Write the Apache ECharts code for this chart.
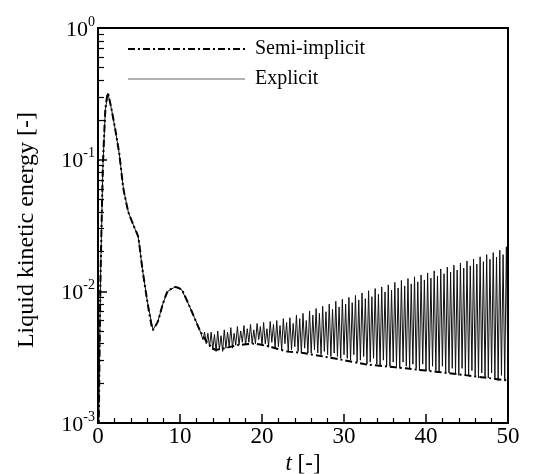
<!DOCTYPE html>
<html>
<head>
<meta charset="utf-8">
<script src="https://cdn.jsdelivr.net/npm/echarts@6/dist/echarts.min.js"></script>
<style>
  html, body { margin: 0; padding: 0; background: #fff; }
  #chart { width: 550px; height: 474px; }
</style>
</head>
<body>
<div id="chart"></div>
<script>
// Liquid kinetic energy history, semi-implicit vs explicit time stepping

const seriesNames = ['Semi-implicit', 'Explicit'];

// Semi-implicit scheme: time [-] and kinetic energy [-]
const semiT = [0, 0.3, 0.6, 0.9, 1.2, 1.6, 2.1, 2.6, 3.1, 3.7, 4.3, 4.9, 5.4, 6.0, 6.7,
  7.3, 7.9, 8.5, 9.4, 10.2, 11.2, 12.4, 13.3, 14.3, 15.5, 17, 19, 21, 23, 25,
  27.5, 30, 32.5, 35, 37.5, 40, 42.5, 45, 47.5, 50];
const semiE = [0.0003, 0.012, 0.09, 0.24, 0.32, 0.25, 0.17, 0.11, 0.06, 0.040, 0.032, 0.026, 0.015, 0.0085, 0.0051,
  0.0059, 0.0080, 0.0100, 0.0108, 0.0103, 0.0076, 0.0051, 0.0041, 0.0036, 0.0037, 0.0039, 0.0040, 0.0038, 0.0035, 0.0034,
  0.0032, 0.0030, 0.0028, 0.0027, 0.0026, 0.0025, 0.0024, 0.0023, 0.0022, 0.0021];

// Explicit scheme: identical to the semi-implicit run up to t = 12.4,
// then an oscillating record sampled every 0.2 from t = 12.6
const explicitSplitT = 12.5;
const explicitStart = 12.6;
const explicitStep = 0.2;
const explicitE = [
  0.0050, 0.0043, 0.0049, 0.0040, 0.0048, 0.0038, 0.0049, 0.0036, 0.0047, 0.0035,
  0.0050, 0.0036, 0.0046, 0.0035, 0.0051, 0.0037, 0.0049, 0.0038, 0.0053, 0.0037,
  0.0048, 0.0039, 0.0054, 0.0039, 0.0050, 0.0041, 0.0055, 0.0039, 0.0052, 0.0041,
  0.0056, 0.0040, 0.0051, 0.0040, 0.0057, 0.0043, 0.0054, 0.0039, 0.0058, 0.0040,
  0.0052, 0.0038, 0.0059, 0.0041, 0.0056, 0.0037, 0.0060, 0.0038, 0.0055, 0.0036,
  0.0062, 0.0040, 0.0058, 0.0035, 0.0063, 0.0036, 0.0057, 0.0038, 0.0066, 0.0035,
  0.0062, 0.0034, 0.0068, 0.0037, 0.0060, 0.0034, 0.0071, 0.0034, 0.0066, 0.0036,
  0.0074, 0.0034, 0.0068, 0.0033, 0.0077, 0.0035, 0.0070, 0.0033, 0.0080, 0.0032,
  0.0073, 0.0034, 0.0084, 0.0032, 0.0076, 0.0031, 0.0087, 0.0033, 0.0080, 0.0031,
  0.0090, 0.0030, 0.0082, 0.0033, 0.0093, 0.0029, 0.0086, 0.0030, 0.0097, 0.0032,
  0.0088, 0.0028, 0.0101, 0.0029, 0.0091, 0.0031, 0.0105, 0.0028, 0.0095, 0.0027,
  0.0108, 0.0030, 0.0099, 0.0027, 0.0112, 0.0027, 0.0102, 0.0029, 0.0117, 0.0027,
  0.0106, 0.0026, 0.0121, 0.0029, 0.0110, 0.0027, 0.0125, 0.0026, 0.0114, 0.0028,
  0.0129, 0.0026, 0.0118, 0.0025, 0.0133, 0.0028, 0.0122, 0.0025, 0.0138, 0.0025,
  0.0126, 0.0027, 0.0143, 0.0025, 0.0131, 0.0024, 0.0148, 0.0027, 0.0136, 0.0024,
  0.0153, 0.0024, 0.0140, 0.0026, 0.0158, 0.0024, 0.0145, 0.0023, 0.0164, 0.0026,
  0.0150, 0.0023, 0.0170, 0.0023, 0.0156, 0.0025, 0.0176, 0.0023, 0.0161, 0.0022,
  0.0183, 0.0024, 0.0168, 0.0022, 0.0190, 0.0022, 0.0175, 0.0024, 0.0197, 0.0022,
  0.0182, 0.0021, 0.0205, 0.0023, 0.0190, 0.0021, 0.0218, 0.0021
];

// Axis ticks
const xMajorTicks = [0, 10, 20, 30, 40, 50];
const yMajorTicks = [0.001, 0.01, 0.1, 1];
const yMinorTicks = [0.002, 0.003, 0.004, 0.005, 0.006, 0.007, 0.008, 0.009,
  0.02, 0.03, 0.04, 0.05, 0.06, 0.07, 0.08, 0.09,
  0.2, 0.3, 0.4, 0.5, 0.6, 0.7, 0.8, 0.9];

const semiData = semiT.map((t, i) => [t, semiE[i]]);
const explicitData = semiData
  .filter(p => p[0] < explicitSplitT)
  .concat(explicitE.map((e, i) => [+(explicitStart + i * explicitStep).toFixed(2), e]));

const FONT = '"Liberation Serif", "Times New Roman", serif';

const chart = echarts.init(document.getElementById('chart'), null, { renderer: 'canvas' });

chart.setOption({
  backgroundColor: '#fff',
  animation: false,
  textStyle: { fontFamily: FONT, color: '#000' },
  grid: {
    left: 98, right: 42, top: 28, bottom: 51,
    outerBoundsMode: 'none',
    containLabel: false,
    show: true, borderColor: '#000', borderWidth: 2, backgroundColor: 'transparent'
  },
  legend: {
    left: 122, top: 34,
    orient: 'vertical',
    itemWidth: 117, itemHeight: 14, itemGap: 10,
    itemStyle: { opacity: 0 },
    textStyle: { fontFamily: FONT, fontSize: 20, color: '#000', padding: [0, 0, 0, 5] },
    data: [
      { name: seriesNames[0] },
      { name: seriesNames[1], lineStyle: { color: '#666', width: 1.2 } }
    ]
  },
  xAxis: {
    type: 'value', min: 0, max: 50, interval: 10,
    axisLine: { show: true, lineStyle: { color: '#000', width: 2 } },
    axisTick: { show: true, inside: true, length: 9, lineStyle: { color: '#000', width: 1.5 }, customValues: xMajorTicks },
    minorTick: { show: true, splitNumber: 5, length: 5, lineStyle: { color: '#000', width: 1.2 } },
    axisLabel: { customValues: xMajorTicks, fontFamily: FONT, fontSize: 23, color: '#000', margin: 2 },
    splitLine: { show: false },
    name: '{i|t} [-]',
    nameLocation: 'middle', nameGap: 25,
    nameTextStyle: {
      fontFamily: FONT, fontSize: 23, color: '#000',
      rich: { i: { fontFamily: FONT, fontSize: 23, fontStyle: 'italic', color: '#000' } }
    }
  },
  yAxis: [
    {
      type: 'log', logBase: 10, min: 0.001, max: 1,
      axisLine: { show: true, lineStyle: { color: '#000', width: 2 } },
      axisTick: { show: true, inside: true, length: 9, lineStyle: { color: '#000', width: 1.5 }, customValues: yMajorTicks },
      axisLabel: {
        customValues: yMajorTicks,
        margin: 3,
        formatter: v => '{a|10}{b|' + Math.round(Math.log10(v)) + '}',
        rich: {
          a: { fontFamily: FONT, fontSize: 22, color: '#000', padding: [4, 0, 0, 0] },
          b: { fontFamily: FONT, fontSize: 14, color: '#000', verticalAlign: 'top', padding: [0, 0, 10, 0] }
        }
      },
      splitLine: { show: false },
      name: 'Liquid kinetic energy [-]',
      nameLocation: 'middle', nameGap: 59,
      nameTextStyle: { fontFamily: FONT, fontSize: 24, color: '#000', padding: [0, 9, 0, 0] }
    },
    {
      // minor decade ticks (2..9) on the same left edge
      type: 'log', logBase: 10, min: 0.001, max: 1,
      position: 'left', offset: 0,
      axisLine: { show: false },
      axisTick: { show: true, inside: true, length: 6, lineStyle: { color: '#000', width: 1.2 }, customValues: yMinorTicks },
      axisLabel: { show: false },
      splitLine: { show: false }
    }
  ],
  series: [
    {
      name: seriesNames[0], type: 'line', data: semiData,
      symbol: 'none', smooth: 0.15, z: 3,
      lineStyle: { color: '#000', width: 2, type: [7, 3, 2, 3] }
    },
    {
      name: seriesNames[1], type: 'line', data: explicitData,
      symbol: 'none', z: 2,
      lineStyle: { color: '#111', width: 1 }
    }
  ]
});
</script>
</body>
</html>
